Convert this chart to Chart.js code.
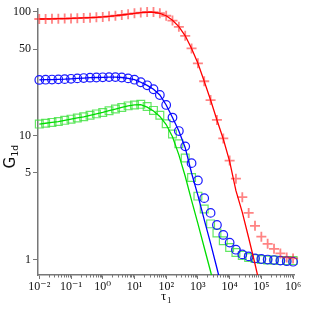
<!DOCTYPE html>
<html>
<head>
<meta charset="utf-8">
<script src="https://cdn.jsdelivr.net/npm/chart.js@4/dist/chart.umd.min.js"></script>
<style>
  html, body { margin: 0; padding: 0; background: #fff; }
</style>
</head>
<body>
<canvas id="grafico-g1d" width="309" height="309"></canvas>
<script>
// tempos de atraso (5 pontos por década)
const tau = [0.01, 0.0158, 0.0251, 0.0398, 0.0631, 0.1, 0.158, 0.251, 0.398, 0.631,
  1, 1.58, 2.51, 3.98, 6.31, 10, 15.8, 25.1, 39.8, 63.1,
  100, 158, 251, 398, 631, 1000, 1580, 2510, 3980, 6310,
  10000, 15800, 25100, 39800, 63100, 100000, 158000, 251000, 398000, 631000, 1000000];

// pontos medidos
const gRed = [87.5, 87.5, 87.8, 88, 88.2, 88.5, 88.8, 89.2, 89.7, 90.3,
  91, 92, 93, 94.3, 95.8, 97.3, 98.7, 99.7, 99.5, 97.5,
  93, 85, 75.6, 64, 50.6, 38.4, 27.5, 19.4, 13.4, 9.5,
  6.3, 4.5, 3.19, 2.38, 1.87, 1.53, 1.34, 1.22, 1.12, 1.04, 1.02];
const gBlue = [28.2, 28.3, 28.4, 28.5, 28.6, 28.8, 29.0, 29.2, 29.4, 29.5,
  29.6, 29.7, 29.7, 29.5, 29.0, 28.3, 27.0, 25.5, 23.7, 21.3,
  17.7, 14, 10.9, 8.2, 6.0, 4.35, 3.13, 2.38, 1.9, 1.58,
  1.37, 1.2, 1.1, 1.06, 1.02, 1.01, 1.0, 0.99, 0.98, 0.97, 0.96];
const gGreen = [12.4, 12.6, 12.8, 13.0, 13.3, 13.6, 13.9, 14.2, 14.6, 15.0,
  15.4, 15.9, 16.4, 16.9, 17.4, 17.7, 17.9, 17.2, 16.0, 14.6,
  12.5, 10.3, 8.6, 6.6, 4.6, 3.25, 2.56, 1.94, 1.64, 1.42,
  1.25, 1.14, 1.08, 1.04, 1.02, 1.0, 0.99, 0.99, 0.98, 0.98, 0.98];

// curvas ajustadas (mesmos tempos, terminam antes)
const gRedFit = [87.5, 87.6, 87.8, 88, 88.2, 88.5, 88.8, 89.2, 89.7, 90.3,
  91, 92, 93, 94.3, 95.8, 97.3, 98.6, 99.4, 99.2, 97.2,
  93, 85.5, 76, 64, 50.6, 38.4, 27.5, 19.4, 13.4, 9.4,
  6.2, 3.6, 2.4, 1.5, 0.92, 0.55];
const gBlueFit = [28.2, 28.3, 28.4, 28.5, 28.6, 28.8, 29.0, 29.2, 29.4, 29.5,
  29.6, 29.7, 29.7, 29.5, 29.0, 28.3, 27.0, 25.5, 23.7, 21.3,
  17.7, 14, 10.9, 8.0, 5.0, 3.3, 2.1, 1.35, 0.85, 0.53];
const gGreenFit = [12.4, 12.6, 12.8, 13.0, 13.3, 13.6, 13.9, 14.2, 14.6, 15.0,
  15.4, 15.9, 16.4, 16.9, 17.4, 17.7, 17.8, 17.0, 15.8, 14.3,
  12.3, 9.8, 7.0, 4.7, 3.0, 1.95, 1.25, 0.8, 0.5];

// eixos
const xTicks = [1e-2, 1e-1, 1, 10, 100, 1e3, 1e4, 1e5, 1e6];
const xTickLabels = ['10⁻²', '10⁻¹', '10⁰', '10¹', '10²', '10³', '10⁴', '10⁵', '10⁶'];
const yTicks = [1, 5, 10, 50, 100];
const yTickLabels = ['1', '5', '10', '50', '100'];

const pts = ys => ys.map((y, i) => ({ x: tau[i], y }));
const serif = "'Liberation Serif', 'DejaVu Serif', serif";
const axisGray = '#777';

// marcas menores do eixo x (2..9 em cada década)
const minorTicks = {
  id: 'minorTicks',
  afterDraw(chart) {
    const { ctx, scales: { x }, chartArea } = chart;
    ctx.save();
    ctx.strokeStyle = axisGray;
    ctx.lineWidth = 1;
    for (let e = -2; e < 6; e++) {
      for (let m = 2; m < 10; m++) {
        const px = Math.round(x.getPixelForValue(m * Math.pow(10, e))) + 0.5;
        ctx.beginPath();
        ctx.moveTo(px, chartArea.bottom);
        ctx.lineTo(px, chartArea.bottom + 2.5);
        ctx.stroke();
      }
    }
    ctx.restore();
  }
};

// títulos com subscrito
const axisTitles = {
  id: 'axisTitles',
  afterDraw(chart) {
    const ctx = chart.ctx;
    ctx.save();
    ctx.fillStyle = '#111';
    ctx.textBaseline = 'alphabetic';
    // G_1d (vertical)
    ctx.translate(15, 157);
    ctx.rotate(-Math.PI / 2);
    ctx.font = "15px 'DejaVu Sans', sans-serif";
    const wG = ctx.measureText('G').width;
    ctx.font = "9px 'DejaVu Sans', sans-serif";
    const wS = ctx.measureText('1d').width;
    let x0 = -(wG + wS) / 2;
    ctx.font = "15px 'DejaVu Sans', sans-serif";
    ctx.fillText('G', x0, 0);
    ctx.font = "9px 'DejaVu Sans', sans-serif";
    ctx.fillText('1d', x0 + wG + 0.5, 3);
    ctx.setTransform(1, 0, 0, 1, 0, 0);
    // tau_1
    ctx.font = '13px ' + serif;
    ctx.fillText('τ', 161, 300);
    ctx.font = '9px ' + serif;
    ctx.fillText('1', 167, 303);
    ctx.restore();
  }
};

const ctx = document.getElementById('grafico-g1d').getContext('2d');
const grafico = new Chart(ctx, {
  type: 'scatter',
  data: {
    datasets: [
      { data: pts(gRedFit), showLine: true, borderColor: '#ff0000', borderWidth: 1.3, pointRadius: 0, order: 0 },
      { data: pts(gBlueFit), showLine: true, borderColor: '#0000ff', borderWidth: 1.3, pointRadius: 0, order: 0 },
      { data: pts(gGreenFit), showLine: true, borderColor: '#00dd00', borderWidth: 1.3, pointRadius: 0, order: 0 },
      {
        data: pts(gRed), pointStyle: 'cross', pointRadius: 5, pointBorderWidth: 1.8,
        pointBorderColor: 'rgba(255,30,30,0.55)', pointBackgroundColor: 'rgba(0,0,0,0)', clip: false, order: 1
      },
      {
        data: pts(gBlue), pointStyle: 'circle', pointRadius: 4.3, pointBorderWidth: 1.2,
        pointBorderColor: '#1a1aff', pointBackgroundColor: 'rgba(0,0,0,0)', clip: false, order: 1
      },
      {
        data: pts(gGreen), pointStyle: 'rect', pointRadius: 5.5, pointBorderWidth: 1.2,
        pointBorderColor: 'rgba(60,225,60,0.8)', pointBackgroundColor: 'rgba(0,0,0,0)', clip: false, order: 1
      }
    ]
  },
  options: {
    responsive: false,
    animation: false,
    layout: { padding: { left: 0, right: 15, top: 7, bottom: 0 } },
    plugins: { legend: { display: false }, tooltip: { enabled: false } },
    scales: {
      x: {
        type: 'logarithmic',
        min: 0.0091,
        max: 1.07e6,
        afterBuildTicks: s => { s.ticks = xTicks.map(v => ({ value: v })); },
        afterFit: s => { s.height = 34; },
        ticks: {
          autoSkip: false, maxRotation: 0, padding: 1, color: '#111',
          font: { family: serif, size: 12 },
          callback: (v, i) => xTickLabels[i]
        },
        grid: { drawOnChartArea: false, tickLength: 4, color: axisGray },
        border: { color: axisGray, width: 1.5 }
      },
      y: {
        type: 'logarithmic',
        min: 0.75,
        max: 105,
        afterBuildTicks: s => { s.ticks = yTicks.map(v => ({ value: v })); },
        afterFit: s => { s.width = 38; },
        ticks: {
          autoSkip: false, padding: 2, color: '#111',
          font: { family: serif, size: 12 },
          callback: (v, i) => yTickLabels[i]
        },
        grid: { drawOnChartArea: false, tickLength: 5, color: axisGray },
        border: { color: axisGray, width: 1.5 }
      }
    }
  },
  plugins: [minorTicks, axisTitles]
});
</script>
</body>
</html>
